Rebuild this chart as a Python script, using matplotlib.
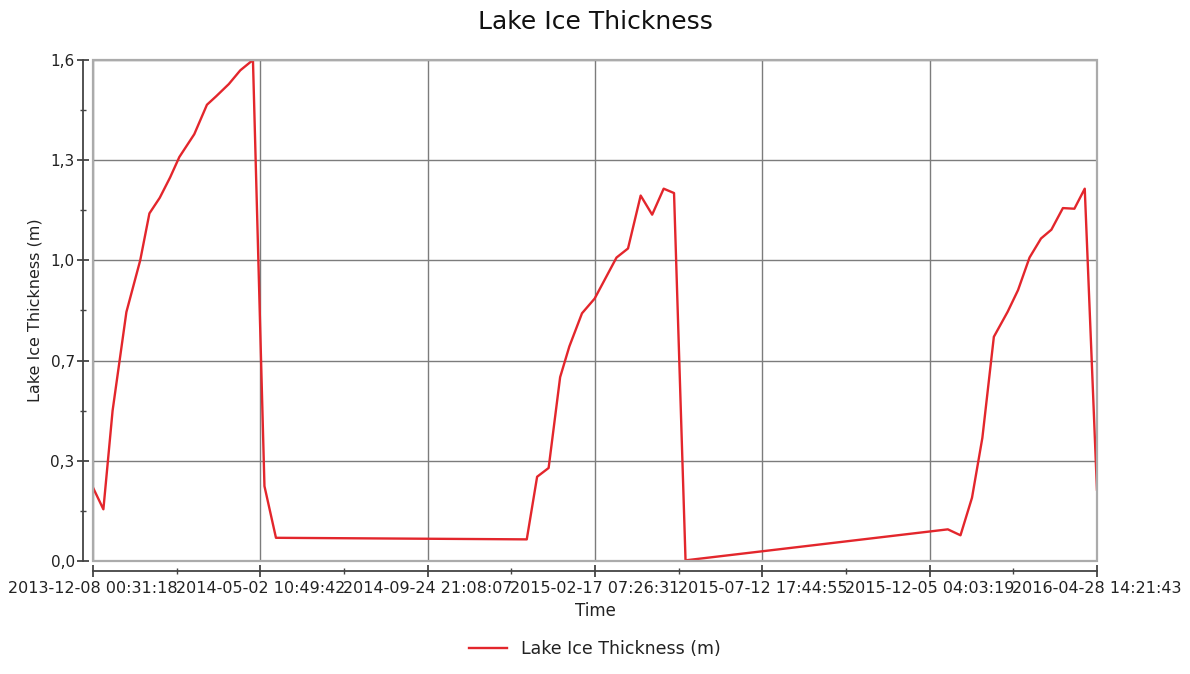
import numpy as np
import pandas as pd
import matplotlib
matplotlib.use("Agg")
import matplotlib.pyplot as plt
import matplotlib.dates as mdates
from matplotlib.patches import Rectangle
from matplotlib.ticker import FixedLocator, FixedFormatter

# =========================================================
# DATA
# =========================================================

fechas = [
    "2013-12-08 00:31:18", "2013-12-17", "2013-12-25", "2014-01-06", "2014-01-18",
    "2014-01-26", "2014-02-04", "2014-02-13", "2014-02-21", "2014-03-06",
    "2014-03-17", "2014-03-25", "2014-04-05", "2014-04-15", "2014-04-26",
    "2014-05-06", "2014-05-16",
    "2014-12-20", "2014-12-29", "2015-01-08", "2015-01-18", "2015-01-26",
    "2015-02-06", "2015-02-17", "2015-03-08", "2015-03-18", "2015-03-29",
    "2015-04-08", "2015-04-18", "2015-04-27", "2015-05-07",
    "2015-12-21", "2016-01-01", "2016-01-11", "2016-01-20", "2016-01-30",
    "2016-02-11", "2016-02-20", "2016-03-01", "2016-03-11", "2016-03-20",
    "2016-03-30", "2016-04-09", "2016-04-18", "2016-04-28 14:21:43",
]

espesor = [
    0.234, 0.165, 0.48, 0.795, 0.96,
    1.11, 1.16, 1.225, 1.29, 1.363,
    1.457, 1.484, 1.523, 1.567, 1.60,
    0.239, 0.074,
    0.069, 0.269, 0.297, 0.587, 0.685,
    0.791, 0.838, 0.969, 0.998, 1.167,
    1.106, 1.189, 1.175, 0.002,
    0.101, 0.082, 0.202, 0.393, 0.716,
    0.796, 0.865, 0.969, 1.030, 1.058,
    1.127, 1.125, 1.189, 0.228,
]

X_TICKS = [
    "2013-12-08 00:31:18", "2014-05-02 10:49:42", "2014-09-24 21:08:07",
    "2015-02-17 07:26:31", "2015-07-12 17:44:55", "2015-12-05 04:03:19",
    "2016-04-28 14:21:43",
]

Y_TICKS  = [0.0, 0.32, 0.64, 0.96, 1.28, 1.6]
Y_LABELS = ["0,0", "0,3", "0,7", "1,0", "1,3", "1,6"]

ROJO      = "#e3262c"
GRIS_GRID = "#7c7c7c"
GRIS_BOX  = "#ababab"
EJE       = "#444444"

# =========================================================
# PLOT
# =========================================================

t = pd.to_datetime(fechas, format="mixed")
x_ticks = pd.to_datetime(X_TICKS)
x_minor = [a + (b - a) / 2 for a, b in zip(x_ticks[:-1], x_ticks[1:])]

fig = plt.figure(figsize=(11.9, 6.74), dpi=100)
ax = fig.add_axes([0.0782, 0.1677, 0.8436, 0.7433])

ax.plot(t, espesor, color=ROJO, lw=1.7, label="Lake Ice Thickness (m)", zorder=3)

ax.set_xlim(x_ticks[0], x_ticks[-1])
ax.set_ylim(0, 1.6)

ax.xaxis.set_major_locator(FixedLocator(mdates.date2num(x_ticks)))
ax.xaxis.set_major_formatter(FixedFormatter(X_TICKS))
ax.xaxis.set_minor_locator(FixedLocator(mdates.date2num(x_minor)))
ax.yaxis.set_major_locator(FixedLocator(Y_TICKS))
ax.yaxis.set_major_formatter(FixedFormatter(Y_LABELS))
ax.yaxis.set_minor_locator(FixedLocator([(a + b) / 2 for a, b in zip(Y_TICKS[:-1], Y_TICKS[1:])]))

ax.grid(True, which="major", color=GRIS_GRID, lw=1.0)

for s in ("top", "right"):
    ax.spines[s].set_visible(False)
ax.spines["left"].set_position(("outward", 7.2))
ax.spines["bottom"].set_position(("outward", 7.5))
for s in ("left", "bottom"):
    ax.spines[s].set_color(EJE)
    ax.spines[s].set_linewidth(1.3)

# marco del área de datos
ax.add_patch(Rectangle((0, 0), 1, 1, transform=ax.transAxes, fill=False,
                       edgecolor=GRIS_BOX, lw=1.6, clip_on=False, zorder=4))

ax.tick_params(axis="x", which="major", direction="inout", length=8, width=1.3,
               labelsize=11.5, pad=3, colors=EJE, labelcolor="#222222")
ax.tick_params(axis="x", which="minor", direction="inout", length=4, width=1.0,
               colors=EJE)
ax.tick_params(axis="y", which="major", direction="inout", length=8, width=1.3,
               labelsize=11, pad=2, colors=EJE, labelcolor="#222222")
ax.tick_params(axis="y", which="minor", direction="inout", length=5, width=1.0,
               colors=EJE)

ax.set_xlabel("Time", fontsize=12, color="#222222", labelpad=4)
ax.set_ylabel("Lake Ice Thickness (m)", fontsize=11.5, color="#222222", labelpad=6)
fig.suptitle("Lake Ice Thickness", fontsize=18, y=0.985, color="#111111")

fig.legend(loc="lower center", bbox_to_anchor=(0.5, 0.0), frameon=False,
           fontsize=12.5, handlelength=2.2, labelcolor="#222222")

fig.savefig("out.png", dpi=100)
